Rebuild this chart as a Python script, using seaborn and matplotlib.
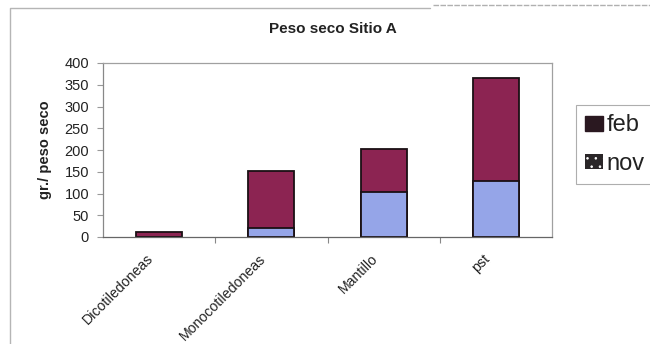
import matplotlib
matplotlib.use("Agg")
import matplotlib.pyplot as plt
from matplotlib.patches import Patch
from matplotlib.transforms import ScaledTranslation
import seaborn as sns
import pandas as pd

# Dry weight per plant group, site A
categorias = ["Dicotiledoneas", "Monocotiledoneas", "Mantillo", "pst"]
nov = [0, 20, 103, 128]
feb = [12, 132, 100, 238]

MAROON = "#8c2452"
BLUE = "#95a5e8"

sns.set_theme(style="white")
plt.rcParams["font.family"] = ["Liberation Sans", "DejaVu Sans"]
plt.rcParams["hatch.color"] = "#c8c8c8"
plt.rcParams["hatch.linewidth"] = 0.6

df = pd.DataFrame({"categoria": categorias, "nov": nov, "feb": feb})
df["total"] = df["nov"] + df["feb"]

fig = plt.figure(figsize=(6.5, 3.44), dpi=100)
ax = fig.add_axes([103 / 650, 1 - 237 / 344, (552 - 103) / 650, (237 - 63) / 344])

# stacked columns: full height in maroon (feb on top), nov drawn over it from zero
sns.barplot(data=df, x="categoria", y="total", color=MAROON, saturation=1,
            width=0.41, edgecolor="#1a1014", linewidth=1.3, ax=ax)
sns.barplot(data=df, x="categoria", y="nov", color=BLUE, saturation=1,
            width=0.41, edgecolor="#1a1014", linewidth=1.3, ax=ax)

ax.set_ylim(0, 400)
ax.set_xlim(-0.5, 3.5)
ax.set_yticks(range(0, 401, 50))
ax.tick_params(axis="y", labelsize=10.5, length=4, width=0.8, color="#999999",
               pad=6, left=True, labelcolor="#222222")
ax.set_xticks(range(len(categorias)))
ax.set_xticklabels(categorias, rotation=45, ha="right", va="center",
                   rotation_mode="anchor", fontsize=10.2, color="#222222")
ax.tick_params(axis="x", length=0, pad=14)
shift = ScaledTranslation(-8 / 100, 0, fig.dpi_scale_trans)
for lab in ax.get_xticklabels():
    lab.set_transform(lab.get_transform() + shift)
# category separator ticks on the x axis
ax.set_xticks([0.5, 1.5, 2.5], minor=True)
ax.tick_params(axis="x", which="minor", length=4, width=0.8, color="#888888",
               bottom=True)

for side in ["top", "right", "left", "bottom"]:
    ax.spines[side].set_visible(True)
    ax.spines[side].set_color("#a0a0a0")
    ax.spines[side].set_linewidth(0.9)
ax.spines["bottom"].set_color("#666666")
ax.spines["left"].set_color("#888888")

ax.set_xlabel("")
ax.set_ylabel("gr./ peso seco", fontsize=10.5, fontweight="bold", labelpad=9,
              color="#222222")
fig.text(333 / 650, 1 - 29 / 344, "Peso seco Sitio A", ha="center",
         va="center", fontsize=11, fontweight="bold", color="#222222")

# chart frame: left and top edges of the chart area
fig.add_artist(plt.Line2D([10 / 650, 10 / 650, 430 / 650],
                          [0, 1 - 8 / 344, 1 - 8 / 344],
                          transform=fig.transFigure, color="#b5b5b5",
                          linewidth=1.0))
fig.add_artist(plt.Line2D([433 / 650, 1.0], [1 - 5 / 344, 1 - 5 / 344],
                          transform=fig.transFigure, color="#b0b0b0",
                          linewidth=1.0, linestyle=(0, (4, 1))))

handles = [Patch(facecolor="#2a1820", edgecolor="#2a1820", label="feb"),
           Patch(facecolor="#2a2628", hatch="..", linewidth=0, label="nov")]
leg = fig.legend(handles=handles, loc="upper left",
                 bbox_to_anchor=(576 / 650, 1 - 105 / 344), fontsize=17,
                 frameon=True, fancybox=False, handlelength=0.76,
                 handleheight=0.6, handletextpad=0.12, labelspacing=0.68,
                 borderpad=0.4, borderaxespad=0, labelcolor="#222222")
leg.get_frame().set_edgecolor("#9a9a9a")
leg.get_frame().set_linewidth(0.8)

fig.savefig("out.png", dpi=100)
